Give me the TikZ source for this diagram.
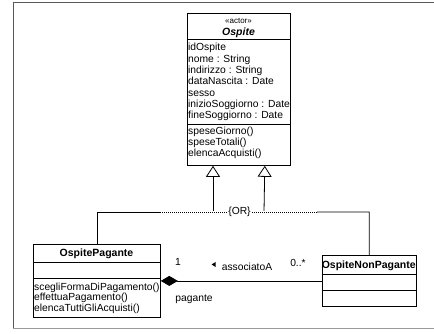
\documentclass[tikz,border=0pt]{standalone}
\usepackage{fontspec}
\setmainfont{Liberation Sans}
\usetikzlibrary{arrows.meta}

\tikzset{
  classbox/.style={draw, line width=0.8pt, inner sep=0pt, anchor=north west},
  member/.style={inner sep=0pt, anchor=base west, font=\fontsize{10.3}{11}\selectfont},
  classname/.style={inner sep=0pt, anchor=base, font=\fontsize{10.5}{11}\selectfont\bfseries},
  stereo/.style={inner sep=0pt, anchor=base, font=\fontsize{8}{9}\selectfont},
  label/.style={inner sep=0pt, anchor=base, font=\fontsize{10.3}{11}\selectfont},
  inherit/.style={line width=0.8pt, -{Triangle[open, length=11pt, width=14pt]}},
  constraint/.style={line width=0.8pt, dash pattern=on 1pt off 1pt,
    preaction={draw=white, solid, line width=1.4pt}},
  compose/.style={line width=0.8pt, {Diamond[length=17pt, width=10pt]}-}
}

\begin{document}
\begin{tikzpicture}[x=1pt, y=-1pt]
\useasboundingbox (0,0) rectangle (434,333);
\draw[line width=0.9pt, black!65] (434,2) -- (13,2) -- (13,328);
\draw[line width=0.9pt, black!40] (13,328) -- (434,328);

\node[classbox, minimum width=103pt, minimum height=152pt] (ospite) at (187,13) {};
\draw[line width=0.8pt] (187,39) -- (290,39);
\draw[line width=0.8pt] (187,124.5) -- (290,124.5);
\node[stereo] (ospitestereo) at (238.5,23) {«actor»};
\node[classname, font=\fontsize{10.5}{11}\selectfont\bfseries\itshape] (ospitename) at (238.5,35.5) {Ospite};
\foreach \txt [count=\i] in {idOspite, nome : String, indirizzo : String, dataNascita : Date, sesso, inizioSoggiorno : Date, fineSoggiorno : Date}
  \node[member] (ospiteattr\i) at (188,39.5+11.3*\i) {\txt};
\foreach \txt [count=\i] in {speseGiorno(), speseTotali(), elencaAcquisti()}
  \node[member] (ospiteop\i) at (188,122.7+11.3*\i) {\txt};

\node[classbox, minimum width=127pt, minimum height=73pt] (pagante) at (33,244) {};
\draw[line width=0.8pt] (33,262) -- (160,262);
\draw[line width=0.8pt] (33,278) -- (160,278);
\node[classname] (pagantename) at (96.5,256.6) {OspitePagante};
\foreach \txt [count=\i] in {scegliFormaDiPagamento(), effettuaPagamento(), elencaTuttiGliAcquisti()}
  \node[member] (paganteop\i) at (34,279.7+10.6*\i) {\txt};

\node[classbox, minimum width=93.5pt, minimum height=51pt] (nonpagante) at (322,255) {};
\draw[line width=0.8pt] (322,274) -- (415.5,274);
\draw[line width=0.8pt] (322,290) -- (415.5,290);
\node[classname] (nonpagantename) at (368.75,268) {OspiteNonPagante};

\coordinate (ospiteL) at ([xshift=26pt]ospite.south west);
\coordinate (ospiteR) at ([xshift=-26pt]ospite.south east);
\draw[inherit] (pagante.north) |- (213,212) -- (ospiteL);
\draw[inherit] (nonpagante.north) |- (264,212) -- (ospiteR);
\draw[constraint] (160,212) -- (317,212);
\node[label, anchor=center, fill=white, inner xsep=1.5pt, inner ysep=1pt] (ornote) at (239.5,212) {\{OR\}};

\draw[compose] (pagante.east) -- (nonpagante.west);
\node[label] (multpagante) at (178,265.6) {1};
\node[label] (assoclabel) at (247,270.6) {associatoA};
\fill ([xshift=-6pt, yshift=3.6pt]assoclabel.base west) -- ++(0,-5) -- ++(-4,2.5) -- cycle;
\node[label] (multnonpagante) at (298,266.6) {0..*};
\node[label] (rolepagante) at (194,301.6) {pagante};
\end{tikzpicture}
\end{document}
